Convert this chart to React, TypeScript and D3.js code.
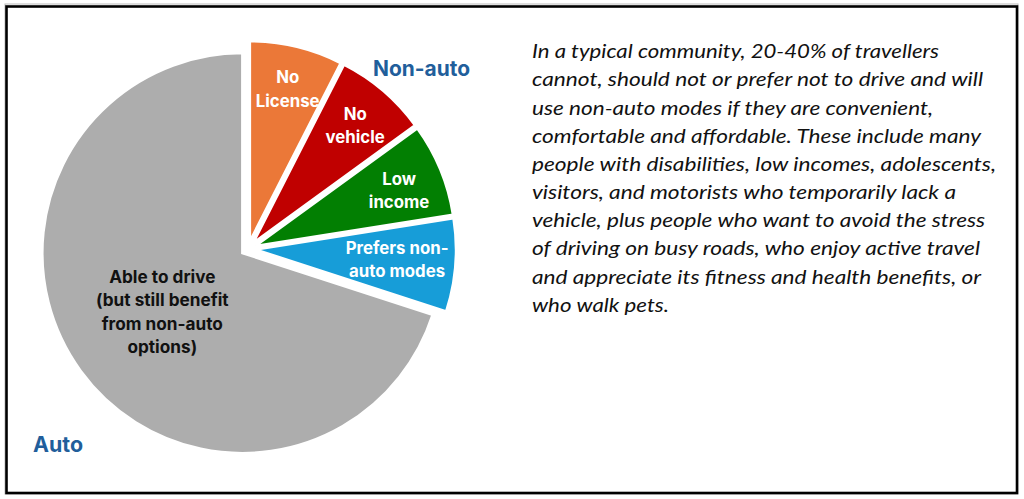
import React from "react";
import * as d3 from "d3";

// ---- data ----
const categories = ["No License", "No vehicle", "Low income", "Prefers non-auto modes", "Able to drive"];
const values = [7.5, 7.5, 7.5, 7.5, 70];
const labelLines = [
  ["No", "License"],
  ["No", "vehicle"],
  ["Low", "income"],
  ["Prefers non-", "auto modes"],
  ["Able to drive", "(but still benefit", "from non-auto", "options)"],
];
const colors = ["#EB7838", "#C00000", "#027F02", "#179DD8", "#ADADAD"];
const labelColors = ["#FFFFFF", "#FFFFFF", "#FFFFFF", "#FFFFFF", "#111111"];
const groupLabels = ["Non-auto", "Auto"];
const paragraph = [
  "In a typical community, 20-40% of travellers",
  "cannot, should not or prefer not to drive and will",
  "use non-auto modes if they are convenient,",
  "comfortable and affordable. These include many",
  "people with disabilities, low incomes, adolescents,",
  "visitors, and motorists who temporarily lack a",
  "vehicle, plus people who want to avoid the stress",
  "of driving on busy roads, who enjoy active travel",
  "and appreciate its fitness and health benefits, or",
  "who walk pets.",
];

// ---- layout config ----
const W = 1024;
const H = 499;
const cx = 248;
const cy = 249;
const R = 200;
const explode = [8, 8, 8, 8, 7];
const labelR = [151, 151, 152, 142, 103];
const labelNudgeDeg = [1, 2, 3.5, 2, -3];
const paraWidths = [407, 451, 401, 449, 464, 424, 453, 448, 449, 137];

export default function App() {
  const pie = d3.pie<number>().sort(null).value((d) => d).startAngle(0).endAngle(2 * Math.PI);
  const arcs = pie(values);
  const arcGen = d3.arc<d3.PieArcDatum<number>>().innerRadius(0).outerRadius(R);

  return (
    <svg
      width={W}
      height={H}
      viewBox={`0 0 ${W} ${H}`}
      style={{ position: "absolute", left: 0, top: 0, background: "#fff" }}
    >
      <rect x={0} y={0} width={W} height={H} fill="#fff" />
      <rect x={5} y={4} width={1013} height={490} fill="none" stroke="#bbb" strokeWidth={1} />
      <rect x={6.5} y={6.5} width={1010.5} height={486.5} fill="none" stroke="#000" strokeWidth={2.6} />

      <g transform={`translate(${cx},${cy})`}>
        {arcs.map((a, i) => {
          const mid = (a.startAngle + a.endAngle) / 2;
          const ox = Math.sin(mid) * explode[i];
          const oy = -Math.cos(mid) * explode[i];
          return (
            <path
              key={categories[i]}
              d={arcGen(a) || ""}
              transform={`translate(${ox},${oy})`}
              fill={colors[i]}
              stroke="#fff"
              strokeWidth={2.5}
              strokeLinejoin="miter"
            />
          );
        })}
        {arcs.map((a, i) => {
          const mid = (a.startAngle + a.endAngle) / 2;
          const ang = mid + (labelNudgeDeg[i] * Math.PI) / 180;
          const ox = Math.sin(mid) * explode[i];
          const oy = -Math.cos(mid) * explode[i];
          const lx = ox + Math.sin(ang) * labelR[i];
          const ly = oy - Math.cos(ang) * labelR[i];
          const lines = labelLines[i];
          const lh = 23.5;
          const y0 = ly - ((lines.length - 1) * lh) / 2;
          return (
            <text
              key={"l" + i}
              x={lx}
              y={y0}
              textAnchor="middle"
              fill={labelColors[i]}
              fontFamily="Inter, 'Open Sans', sans-serif"
              fontWeight={700}
              fontSize={i === 4 ? 17.2 : 16.8}
            >
              {lines.map((t, j) => (
                <tspan key={j} x={lx} y={y0 + j * lh}>
                  {t}
                </tspan>
              ))}
            </text>
          );
        })}
      </g>

      <text
        x={373}
        y={76}
        fill="#215E9B"
        fontFamily="Inter, 'Open Sans', sans-serif"
        fontWeight={700}
        fontSize={21}
        textLength={97}
        lengthAdjust="spacingAndGlyphs"
      >
        {groupLabels[0]}
      </text>
      <text
        x={33}
        y={452}
        fill="#215E9B"
        fontFamily="Inter, 'Open Sans', sans-serif"
        fontWeight={700}
        fontSize={21}
        textLength={50}
        lengthAdjust="spacingAndGlyphs"
      >
        {groupLabels[1]}
      </text>

      {paragraph.map((t, i) => (
        <text
          key={"p" + i}
          x={532}
          y={58.3 + i * 28.15}
          fill="#111"
          fontFamily="Lato, 'Open Sans', sans-serif"
          fontStyle="italic"
          fontSize={18.5}
          textLength={paraWidths[i]}
          lengthAdjust="spacingAndGlyphs"
        >
          {t}
        </text>
      ))}
    </svg>
  );
}
